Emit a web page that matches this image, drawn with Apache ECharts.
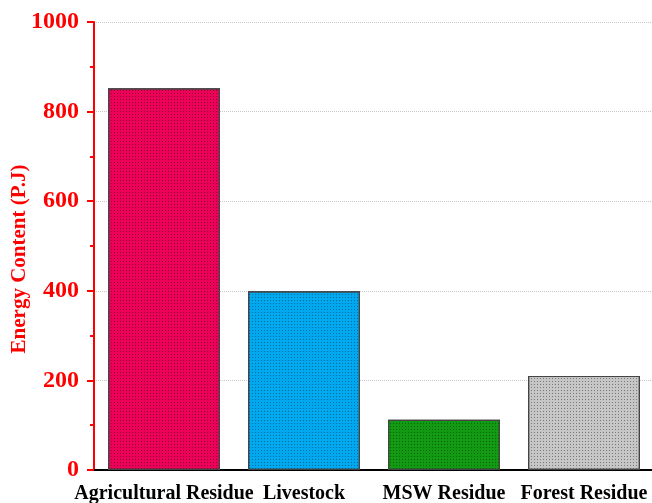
<!DOCTYPE html>
<html>
<head>
<meta charset="utf-8">
<script src="https://cdn.jsdelivr.net/npm/echarts@6/dist/echarts.min.js"></script>
<style>
  html, body { margin: 0; padding: 0; background: #fff; }
  #chart { width: 652px; height: 503px; }
</style>
</head>
<body>
<div id="chart"></div>
<script>
// Energy content by biomass source
const categories = ['Agricultural Residue', 'Livestock', 'MSW Residue', 'Forest Residue'];
const energyPJ = [852, 399, 112, 210];
const barColors = ['#EC0058', '#00A8F0', '#129A12', '#C6C6C6'];
const decalColors = ['rgba(40,0,15,0.65)', 'rgba(0,25,50,0.55)', 'rgba(0,35,0,0.6)', 'rgba(30,30,30,0.6)'];
const yTicks = [0, 200, 400, 600, 800, 1000];
const yTitle = 'Energy Content (P.J)';

const serif = '"Liberation Serif", "Times New Roman", serif';
const chart = echarts.init(document.getElementById('chart'));

chart.setOption({
  animation: false,
  aria: { enabled: false },
  grid: { left: 94, right: -2, top: 22, bottom: 33, containLabel: false, outerBoundsMode: 'none' },
  graphic: [{
    type: 'text',
    x: 20,
    y: 259,
    rotation: Math.PI / 2,
    style: {
      text: yTitle,
      fill: '#F00',
      font: 'bold 21px ' + serif,
      textAlign: 'center',
      textVerticalAlign: 'middle'
    }
  }],
  xAxis: [{
    type: 'category',
    data: categories,
    axisLine: { lineStyle: { color: '#000', width: 2 } },
    axisTick: { alignWithLabel: true, length: 8, lineStyle: { color: '#000', width: 2 } },
    axisLabel: { color: '#000', fontFamily: serif, fontWeight: 'bold', fontSize: 20, margin: 14, interval: 0 },
    splitLine: { show: false }
  }, {
    type: 'category',
    position: 'top',
    data: categories,
    axisLine: { show: true, lineStyle: { color: '#000', width: 2 } },
    axisTick: { show: false },
    axisLabel: { show: false }
  }],
  yAxis: [{
    type: 'value',
    min: yTicks[0],
    max: yTicks[yTicks.length - 1],
    interval: 200,
    axisLine: { show: true, lineStyle: { color: '#F00', width: 2 } },
    axisTick: { show: true, length: 7, lineStyle: { color: '#F00', width: 2 } },
    minorTick: { show: true, splitNumber: 2, length: 4, lineStyle: { color: '#F00', width: 2 } },
    axisLabel: {
      color: '#F00', fontFamily: serif, fontWeight: 'bold', fontSize: 24, margin: 15,
      formatter: v => String(v)
    },
    splitLine: { show: true, lineStyle: { color: '#C8C8C8', type: 'dotted', width: 1 } }
  }, {
    type: 'value',
    position: 'right',
    min: yTicks[0],
    max: yTicks[yTicks.length - 1],
    interval: 200,
    axisLine: { show: true, lineStyle: { color: '#D8D8D8', width: 1 } },
    axisTick: { show: false },
    axisLabel: { show: false },
    splitLine: { show: false }
  }],
  series: [{
    type: 'bar',
    barWidth: '80%',
    data: energyPJ.map((v, i) => ({
      value: v,
      itemStyle: {
        color: barColors[i],
        borderColor: '#444',
        borderWidth: 1.2,
        decal: {
          symbol: 'circle',
          symbolSize: 1,
          color: decalColors[i],
          dashArrayX: [1, 2],
          dashArrayY: [1, 2],
          rotation: 0
        }
      }
    }))
  }]
});
</script>
</body>
</html>
